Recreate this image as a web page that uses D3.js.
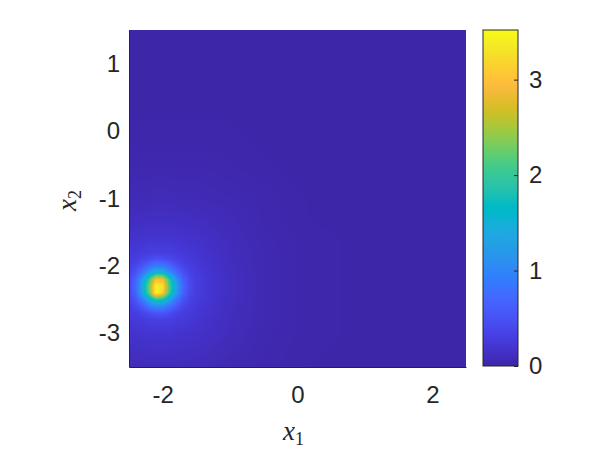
<!DOCTYPE html>
<html>
<head>
<meta charset="utf-8">
<script src="https://cdn.jsdelivr.net/npm/d3@7"></script>
<style>
  html, body { margin: 0; padding: 0; background: #ffffff; }
  svg { display: block; }
</style>
</head>
<body>
<script>
// ---------------- data ----------------
// grid x coordinates (x1)
const gridX = [-2.5,-2.4,-2.3,-2.2,-2.1,-2.0,-1.9,-1.8,-1.7,-1.6,-1.5,-1.3,-1.0,-0.5,0,0.5,1,1.5,2,2.5];
// grid y coordinates (x2), bottom to top
const gridY = [-3.5,-3.0,-2.8,-2.7,-2.6,-2.5,-2.4,-2.3,-2.2,-2.1,-2.0,-1.9,-1.8,-1.6,-1.3,-1.0,-0.5,0,0.5,1.0,1.5];
// values: one row per gridY entry, one column per gridX entry
const z = [
  [.07,.08,.08,.09,.09,.09,.09,.09,.08,.08,.08,.07,.05,.03,.01,0,0,0,0,0],   // -3.5
  [.17,.18,.19,.20,.20,.20,.20,.19,.18,.17,.16,.13,.09,.04,.02,.01,0,0,0,0],  // -3.0
  [.23,.25,.26,.30,.31,.31,.30,.26,.25,.22,.20,.15,.10,.05,.02,.01,0,0,0,0],  // -2.8
  [.26,.29,.36,.44,.52,.52,.44,.36,.29,.25,.22,.17,.10,.05,.02,.01,0,0,0,0],  // -2.7
  [.29,.40,.58,.85,1.05,1.02,.82,.55,.38,.29,.24,.18,.11,.05,.02,.01,0,0,0,0],// -2.6
  [.34,.52,.90,1.40,1.90,1.80,1.30,.85,.50,.34,.26,.19,.11,.05,.02,.01,0,0,0,0], // -2.5
  [.39,.69,1.35,2.20,3.52,3.10,2.00,1.25,.66,.39,.28,.20,.12,.05,.02,.01,0,0,0,0], // -2.4
  [.41,.72,1.40,2.30,3.45,3.30,2.10,1.30,.70,.41,.29,.20,.12,.05,.02,.01,0,0,0,0], // -2.3
  [.39,.66,1.25,2.00,3.00,2.90,1.90,1.15,.64,.39,.28,.20,.12,.05,.02,.01,0,0,0,0], // -2.2
  [.34,.50,.80,1.20,1.60,1.55,1.10,.75,.48,.34,.26,.19,.11,.05,.02,.01,0,0,0,0], // -2.1
  [.29,.38,.52,.72,.90,.88,.70,.50,.36,.29,.24,.18,.11,.05,.02,.01,0,0,0,0],  // -2.0
  [.26,.29,.35,.42,.48,.47,.41,.34,.28,.25,.22,.17,.10,.05,.02,.01,0,0,0,0],  // -1.9
  [.23,.25,.26,.29,.30,.30,.29,.26,.24,.22,.20,.15,.10,.05,.02,.01,0,0,0,0],  // -1.8
  [.17,.18,.19,.20,.20,.20,.20,.19,.18,.17,.16,.13,.09,.04,.02,.01,0,0,0,0],  // -1.6
  [.10,.11,.11,.12,.12,.12,.12,.12,.11,.11,.10,.09,.07,.03,.01,0,0,0,0,0],   // -1.3
  [.06,.07,.07,.07,.08,.08,.08,.07,.07,.07,.07,.06,.05,.03,.01,0,0,0,0,0],   // -1.0
  [.03,.03,.03,.03,.03,.03,.03,.03,.03,.03,.03,.03,.02,.01,0,0,0,0,0,0],      // -0.5
  [.01,.01,.01,.01,.01,.01,.01,.01,.01,.01,.01,.01,.01,0,0,0,0,0,0,0],        // 0
  [0,0,0,0,0,0,0,0,0,0,0,0,0,0,0,0,0,0,0,0],                                   // 0.5
  [0,0,0,0,0,0,0,0,0,0,0,0,0,0,0,0,0,0,0,0],                                   // 1.0
  [0,0,0,0,0,0,0,0,0,0,0,0,0,0,0,0,0,0,0,0]                                    // 1.5
];
const xTicks = [-2, 0, 2];
const yTicks = [-3, -2, -1, 0, 1];
const cTicks = [0, 1, 2, 3];
const xDomain = [-2.5, 2.5];
const yDomain = [-3.5, 1.5];

// parula colormap (style)
const parula = [
[0.2422,0.1504,0.6603],[0.2504,0.1650,0.7076],[0.2578,0.1818,0.7511],[0.2647,0.1978,0.7952],
[0.2706,0.2147,0.8364],[0.2751,0.2342,0.8710],[0.2783,0.2559,0.8991],[0.2803,0.2782,0.9221],
[0.2813,0.3006,0.9414],[0.2810,0.3228,0.9579],[0.2795,0.3447,0.9717],[0.2760,0.3667,0.9829],
[0.2699,0.3892,0.9906],[0.2602,0.4123,0.9952],[0.2440,0.4358,0.9988],[0.2206,0.4603,0.9973],
[0.1963,0.4847,0.9892],[0.1834,0.5074,0.9798],[0.1786,0.5289,0.9682],[0.1764,0.5499,0.9520],
[0.1687,0.5703,0.9359],[0.1540,0.5902,0.9218],[0.1460,0.6091,0.9079],[0.1380,0.6276,0.8973],
[0.1248,0.6459,0.8883],[0.1113,0.6635,0.8763],[0.0952,0.6798,0.8598],[0.0689,0.6948,0.8394],
[0.0297,0.7082,0.8163],[0.0036,0.7203,0.7917],[0.0067,0.7312,0.7660],[0.0433,0.7411,0.7394],
[0.0964,0.7500,0.7120],[0.1408,0.7584,0.6842],[0.1717,0.7670,0.6554],[0.1938,0.7758,0.6251],
[0.2161,0.7843,0.5923],[0.2470,0.7918,0.5567],[0.2906,0.7973,0.5188],[0.3406,0.8008,0.4789],
[0.3909,0.8029,0.4354],[0.4456,0.8024,0.3909],[0.5044,0.7993,0.3480],[0.5616,0.7942,0.3045],
[0.6174,0.7876,0.2612],[0.6720,0.7793,0.2227],[0.7242,0.7698,0.1910],[0.7738,0.7598,0.1646],
[0.8203,0.7498,0.1535],[0.8634,0.7406,0.1596],[0.9035,0.7330,0.1774],[0.9393,0.7288,0.2100],
[0.9728,0.7298,0.2394],[0.9956,0.7434,0.2371],[0.9970,0.7659,0.2199],[0.9952,0.7893,0.2028],
[0.9892,0.8136,0.1885],[0.9786,0.8386,0.1766],[0.9676,0.8639,0.1643],[0.9610,0.8890,0.1537],
[0.9597,0.9135,0.1423],[0.9628,0.9373,0.1265],[0.9691,0.9606,0.1064],[0.9769,0.9839,0.0805]
].map(c => d3.rgb(c[0]*255, c[1]*255, c[2]*255).formatHex());

// ---------------- layout ----------------
const W = 598, H = 461;
const plot = {left: 129, right: 466, top: 30, bottom: 367};
const cbar = {left: 483, right: 518, top: 30, bottom: 366};
const axisColor = "#262626";
const fontSans = "'Liberation Sans', Arial, Helvetica, sans-serif";
const fontSerif = "'Liberation Serif', 'Times New Roman', serif";
const fs = 24;

const svg = d3.select("body").append("svg").attr("width", W).attr("height", H);

const x = d3.scaleLinear().domain(xDomain).range([plot.left, plot.right]);
const y = d3.scaleLinear().domain(yDomain).range([plot.bottom, plot.top]);

const zMin = 0;
const zMax = d3.max(z, r => d3.max(r));
const color = d3.scaleLinear()
  .domain(parula.map((_, i) => zMin + i * (zMax - zMin) / (parula.length - 1)))
  .range(parula)
  .interpolate(d3.interpolateRgb)
  .clamp(true);

// bilinear surface value (like shading interp)
function surf(px, py) {
  let i = d3.bisectRight(gridX, px) - 1;
  let j = d3.bisectRight(gridY, py) - 1;
  i = Math.max(0, Math.min(gridX.length - 2, i));
  j = Math.max(0, Math.min(gridY.length - 2, j));
  const tx = (px - gridX[i]) / (gridX[i + 1] - gridX[i]);
  const ty = (py - gridY[j]) / (gridY[j + 1] - gridY[j]);
  const a = z[j][i], b = z[j][i + 1], c = z[j + 1][i], d = z[j + 1][i + 1];
  return (a * (1 - tx) + b * tx) * (1 - ty) + (c * (1 - tx) + d * tx) * ty;
}

// heatmap image
const pw = plot.right - plot.left, ph = plot.bottom - plot.top;
const cv = document.createElement("canvas");
cv.width = pw; cv.height = ph;
const ctx = cv.getContext("2d");
const img = ctx.createImageData(pw, ph);
for (let r = 0; r < ph; r++) {
  const vy = y.invert(plot.top + r + 0.5);
  for (let c = 0; c < pw; c++) {
    const vx = x.invert(plot.left + c + 0.5);
    const col = d3.rgb(color(surf(vx, vy)));
    const k = (r * pw + c) * 4;
    img.data[k] = col.r; img.data[k + 1] = col.g; img.data[k + 2] = col.b; img.data[k + 3] = 255;
  }
}
ctx.putImageData(img, 0, 0);
svg.append("image")
  .attr("x", x(xDomain[0])).attr("y", y(yDomain[1]))
  .attr("width", x(xDomain[1]) - x(xDomain[0]))
  .attr("height", y(yDomain[0]) - y(yDomain[1]))
  .attr("preserveAspectRatio", "none")
  .attr("href", cv.toDataURL());

// axes
const xAxis = svg.append("g")
  .attr("transform", `translate(0,${plot.bottom})`)
  .call(d3.axisBottom(x).tickValues(xTicks).tickSize(0).tickPadding(19).tickFormat(d3.format("d")));
const yAxis = svg.append("g")
  .attr("transform", `translate(${plot.left},0)`)
  .call(d3.axisLeft(y).tickValues(yTicks).tickSize(0).tickPadding(9).tickFormat(d3.format("d")));
[xAxis, yAxis].forEach(g => {
  g.select(".domain").attr("stroke", axisColor).attr("stroke-width", 1);
  g.selectAll("text").attr("font-family", fontSans).attr("font-size", fs).attr("fill", axisColor);
});
// hyphen minus like the reference
svg.selectAll(".tick text").text(d => String(d));

// axis labels
const xl = svg.append("text")
  .attr("x", (plot.left + plot.right) / 2 - 4).attr("y", 440)
  .attr("text-anchor", "middle").attr("font-family", fontSerif).attr("fill", axisColor);
xl.append("tspan").attr("font-style", "italic").attr("font-size", 27).text("x");
xl.append("tspan").attr("font-size", 18).attr("dy", 5).text("1");

const yl = svg.append("text")
  .attr("transform", `translate(76,${(plot.top + plot.bottom) / 2 + 2}) rotate(-90)`)
  .attr("text-anchor", "middle").attr("font-family", fontSerif).attr("fill", axisColor);
yl.append("tspan").attr("font-style", "italic").attr("font-size", 27).text("x");
yl.append("tspan").attr("font-size", 18).attr("dy", 5).text("2");

// colorbar
const cy = d3.scaleLinear().domain([zMin, zMax]).range([cbar.bottom, cbar.top]);
const defs = svg.append("defs");
const grad = defs.append("linearGradient").attr("id", "cbgrad")
  .attr("x1", 0).attr("y1", 1).attr("x2", 0).attr("y2", 0);
grad.selectAll("stop").data(parula).join("stop")
  .attr("offset", (d, i) => i / (parula.length - 1))
  .attr("stop-color", d => d);
svg.append("rect")
  .attr("x", cbar.left).attr("y", cy(zMax))
  .attr("width", cbar.right - cbar.left).attr("height", cy(zMin) - cy(zMax))
  .attr("fill", "url(#cbgrad)")
  .attr("stroke", axisColor).attr("stroke-width", 1);
const cAxis = svg.append("g")
  .attr("transform", `translate(${cbar.right},0)`)
  .call(d3.axisLeft(cy).tickValues(cTicks).tickSize(4).tickFormat(d3.format("d")));
cAxis.select(".domain").remove();
cAxis.selectAll("line").attr("stroke", axisColor);
cAxis.selectAll("text")
  .attr("text-anchor", "start").attr("x", 11)
  .attr("font-family", fontSans).attr("font-size", fs).attr("fill", axisColor);
</script>
</body>
</html>
